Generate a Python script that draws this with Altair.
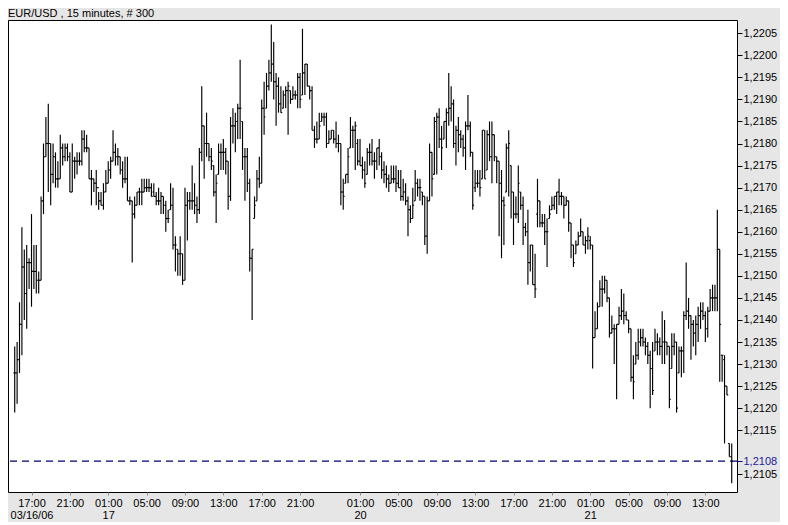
import altair as alt
import pandas as pd

title_text = "EUR/USD , 15 minutes, # 300"
base_price = 1.2100
pip = 0.0001
last_price = 1.2108

# OHLC values in pips above 1.2100, one entry per 15-minute bar (300 bars)
high_pips = [
    34, 35, 44, 61, 56, 57, 54, 64, 57, 57,
    51, 68, 80, 86, 89, 80, 80, 78, 76, 82,
    80, 80, 80, 78, 80, 77, 78, 78, 83, 83,
    82, 79, 74, 72, 74, 69, 69, 71, 74, 76,
    77, 83, 80, 79, 77, 76, 77, 77, 68, 67,
    68, 69, 70, 72, 72, 72, 72, 71, 71, 69,
    70, 69, 68, 67, 65, 71, 70, 59, 56, 59,
    55, 70, 69, 69, 75, 71, 68, 79, 93, 84,
    87, 80, 79, 75, 73, 80, 80, 81, 79, 76,
    86, 88, 87, 89, 99, 85, 79, 79, 72, 56,
    68, 74, 77, 90, 94, 96, 99, 107, 103, 96,
    95, 93, 92, 93, 94, 92, 93, 92, 96, 96,
    106, 98, 98, 93, 93, 84, 85, 87, 87, 87,
    87, 83, 83, 83, 85, 82, 80, 72, 73, 79,
    86, 84, 85, 81, 81, 77, 76, 79, 80, 81,
    78, 79, 81, 78, 76, 75, 73, 75, 75, 75,
    74, 74, 72, 71, 68, 66, 70, 74, 72, 72,
    69, 68, 68, 80, 78, 86, 87, 88, 84, 85,
    88, 96, 93, 90, 84, 86, 83, 82, 85, 91,
    85, 78, 74, 74, 74, 83, 83, 83, 85, 85,
    82, 77, 76, 74, 68, 80, 83, 75, 69, 68,
    75, 69, 68, 62, 65, 57, 57, 55, 72, 67,
    64, 64, 63, 66, 68, 68, 69, 72, 69, 68,
    68, 67, 62, 57, 58, 60, 63, 60, 59, 61,
    59, 57, 42, 44, 49, 50, 50, 49, 45, 41,
    39, 39, 43, 47, 46, 42, 40, 38, 32, 35,
    38, 38, 38, 36, 35, 33, 35, 38, 37, 36,
    42, 40, 35, 34, 37, 37, 35, 34, 34, 42,
    53, 45, 41, 40, 41, 43, 44, 44, 42, 43,
    47, 48, 48, 65, 56, 32, 32, 25, 12, 12,
]
low_pips = [
    19, 21, 28, 32, 40, 38, 47, 43, 47, 46,
    46, 49, 64, 77, 69, 66, 71, 70, 70, 72,
    75, 76, 76, 69, 69, 72, 73, 75, 75, 78,
    78, 72, 66, 69, 66, 65, 66, 65, 69, 71,
    72, 76, 75, 75, 73, 70, 71, 67, 66, 53,
    63, 66, 66, 66, 69, 69, 69, 68, 68, 66,
    66, 64, 64, 60, 62, 65, 56, 51, 50, 50,
    48, 49, 58, 65, 65, 64, 62, 64, 76, 72,
    77, 76, 74, 68, 62, 73, 74, 74, 73, 65,
    67, 80, 78, 81, 81, 74, 67, 69, 51, 40,
    63, 67, 70, 71, 82, 88, 92, 94, 90, 84,
    87, 87, 88, 88, 82, 89, 90, 90, 88, 88,
    91, 91, 93, 90, 83, 79, 80, 81, 85, 84,
    79, 80, 81, 80, 79, 78, 66, 65, 71, 71,
    79, 79, 74, 75, 75, 72, 70, 73, 75, 75,
    72, 74, 75, 72, 71, 70, 69, 71, 71, 69,
    70, 67, 67, 66, 59, 62, 63, 67, 68, 67,
    66, 57, 55, 67, 68, 73, 73, 79, 74, 81,
    79, 84, 85, 79, 75, 78, 79, 77, 74, 83,
    77, 65, 69, 70, 68, 72, 72, 74, 76, 71,
    76, 71, 59, 54, 57, 69, 68, 63, 57, 63,
    62, 65, 57, 59, 48, 51, 48, 45, 61, 61,
    61, 57, 52, 63, 65, 65, 64, 66, 66, 63,
    66, 60, 54, 52, 55, 57, 59, 57, 55, 56,
    56, 29, 36, 38, 43, 43, 46, 44, 36, 37,
    30, 22, 39, 40, 39, 40, 37, 26, 22, 30,
    31, 34, 34, 32, 30, 20, 23, 33, 32, 32,
    30, 30, 32, 20, 29, 32, 19, 28, 27, 28,
    40, 38, 31, 34, 32, 35, 38, 40, 35, 36,
    42, 42, 42, 42, 26, 26, 12, 23, 9, 3,
]
open_pips = [
    28, 28, 31, 39, 52, 46, 53, 53, 51, 51,
    49, 49, 67, 77, 80, 80, 73, 77, 72, 72,
    79, 77, 79, 77, 69, 76, 76, 76, 76, 81,
    79, 79, 72, 72, 71, 70, 67, 66, 69, 71,
    74, 76, 78, 77, 77, 74, 72, 72, 67, 67,
    64, 66, 69, 69, 69, 70, 70, 70, 69, 68,
    67, 67, 68, 66, 63, 65, 66, 57, 56, 55,
    55, 49, 66, 67, 67, 67, 66, 65, 78, 84,
    80, 80, 77, 75, 69, 73, 78, 78, 78, 76,
    68, 84, 84, 85, 88, 85, 77, 77, 71, 54,
    63, 67, 72, 71, 88, 88, 93, 96, 98, 94,
    93, 89, 88, 91, 92, 92, 90, 91, 91, 95,
    91, 96, 98, 93, 92, 83, 81, 81, 85, 86,
    86, 80, 81, 83, 81, 80, 80, 69, 71, 73,
    79, 83, 83, 80, 76, 75, 74, 73, 78, 78,
    76, 76, 79, 77, 74, 73, 72, 71, 72, 72,
    71, 70, 68, 69, 67, 65, 63, 67, 71, 70,
    69, 68, 59, 67, 78, 73, 85, 86, 81, 81,
    85, 87, 88, 89, 80, 83, 82, 81, 79, 84,
    84, 78, 70, 71, 71, 72, 83, 74, 82, 77,
    82, 77, 76, 71, 67, 69, 79, 75, 69, 64,
    64, 69, 66, 61, 60, 53, 57, 48, 64, 67,
    62, 62, 60, 63, 65, 66, 68, 69, 68, 68,
    66, 67, 62, 57, 55, 57, 59, 60, 57, 58,
    58, 57, 36, 38, 43, 47, 47, 49, 45, 37,
    38, 38, 39, 41, 42, 41, 40, 38, 27, 30,
    32, 35, 36, 35, 34, 32, 29, 33, 35, 35,
    34, 35, 35, 34, 29, 34, 35, 28, 33, 33,
    41, 42, 41, 39, 37, 39, 41, 42, 41, 38,
    42, 45, 45, 45, 56, 32, 31, 25, 12, 9,
]
close_pips = [
    28, 31, 39, 52, 46, 53, 53, 51, 51, 49,
    49, 67, 77, 80, 80, 73, 77, 72, 72, 79,
    77, 79, 77, 69, 76, 76, 76, 76, 81, 79,
    79, 72, 72, 71, 70, 67, 66, 69, 71, 74,
    76, 78, 77, 77, 74, 72, 72, 67, 67, 64,
    66, 69, 69, 69, 70, 70, 70, 68, 68, 67,
    67, 68, 66, 63, 63, 66, 57, 57, 55, 55,
    49, 66, 67, 67, 67, 66, 65, 78, 84, 80,
    80, 77, 76, 69, 71, 78, 78, 78, 76, 68,
    84, 84, 85, 88, 88, 77, 77, 71, 54, 56,
    66, 72, 71, 88, 86, 93, 96, 98, 94, 93,
    89, 87, 91, 92, 93, 90, 91, 91, 95, 90,
    96, 98, 93, 92, 83, 81, 81, 84, 86, 86,
    80, 81, 83, 81, 80, 80, 69, 68, 73, 77,
    83, 83, 84, 76, 75, 74, 71, 78, 78, 76,
    76, 79, 77, 74, 73, 72, 71, 72, 72, 71,
    70, 68, 69, 67, 65, 63, 66, 71, 70, 70,
    68, 59, 67, 78, 72, 85, 86, 81, 79, 85,
    87, 88, 89, 80, 83, 82, 81, 79, 84, 84,
    78, 66, 71, 71, 70, 83, 72, 82, 77, 82,
    77, 76, 71, 67, 66, 79, 80, 69, 64, 64,
    71, 66, 61, 60, 53, 57, 48, 47, 67, 62,
    62, 60, 60, 64, 66, 68, 69, 68, 68, 66,
    67, 62, 57, 53, 57, 59, 60, 57, 58, 59,
    57, 36, 38, 43, 47, 47, 49, 45, 37, 38,
    38, 39, 41, 42, 41, 40, 38, 27, 26, 32,
    35, 36, 35, 34, 32, 29, 24, 35, 35, 34,
    35, 35, 34, 22, 34, 35, 20, 33, 33, 41,
    42, 41, 39, 37, 39, 41, 42, 41, 38, 42,
    45, 45, 45, 56, 39, 32, 25, 23, 9, 8,
]

# time axis: bar index of each labelled tick, its time and (optional) date line
x_tick_index = [7, 23, 39, 55, 71, 87, 103, 119, 144, 160, 176, 192, 208, 224, 240, 256, 272, 288]
x_tick_time = ["17:00", "21:00", "01:00", "05:00", "09:00", "13:00", "17:00", "21:00",
               "01:00", "05:00", "09:00", "13:00", "17:00", "21:00",
               "01:00", "05:00", "09:00", "13:00"]
x_tick_date = ["03/16/06", "", "17", "", "", "", "", "",
               "20", "", "", "", "", "",
               "21", "", "", ""]

# price axis ticks (the last price 1.2108 replaces 1.2110)
y_tick_values = [1.2105, 1.2108, 1.2115, 1.2120, 1.2125, 1.2130, 1.2135, 1.2140,
                 1.2145, 1.2150, 1.2155, 1.2160, 1.2165, 1.2170, 1.2175, 1.2180,
                 1.2185, 1.2190, 1.2195, 1.2200, 1.2205]

n = len(high_pips)
df = pd.DataFrame({
    "i": list(range(n)),
    "high": [base_price + v * pip for v in high_pips],
    "low": [base_price + v * pip for v in low_pips],
    "open": [base_price + v * pip for v in open_pips],
    "close": [base_price + v * pip for v in close_pips],
})

label_expr = " : ".join(
    f"datum.value == {i} ? ['{t}', '{d}']"
    for i, t, d in zip(x_tick_index, x_tick_time, x_tick_date)
) + " : ''"

FONT = "Liberation Sans"
BAR_COLOR = "#000000"
BAR_WIDTH = 1.15

x_scale = alt.Scale(domain=[-2.8, 301.2], nice=False, zero=False)
y_scale = alt.Scale(domain=[1.21010, 1.22080], nice=False, zero=False)

x_axis = alt.Axis(
    orient="bottom", values=x_tick_index, labelExpr=label_expr, title=None,
    grid=False, domain=False, ticks=True, tickSize=3, tickColor="#7a9a7a",
    labelFont=FONT, labelFontSize=11, labelColor="black", labelPadding=2,
    labelLineHeight=12, labelOverlap=False, labelFlush=False, labelAngle=0,
)
y_axis = alt.Axis(
    orient="right", values=y_tick_values,
    labelExpr="replace(format(datum.value, '.4f'), '.', ',')", title=None,
    grid=False, domain=False, tickSize=5,
    tickColor={"condition": {"test": "abs(datum.value - 1.2108) < 0.00001", "value": "#000080"},
               "value": "black"},
    labelColor={"condition": {"test": "abs(datum.value - 1.2108) < 0.00001", "value": "#1a1a9a"},
                "value": "black"},
    labelFont=FONT, labelFontSize=11, labelPadding=1, labelOverlap=False, labelFlush=False,
)

last_line = alt.Chart(pd.DataFrame({"p": [last_price]})).mark_rule(
    color="#000070", strokeDash=[7, 5], strokeWidth=1.3
).encode(y=alt.Y("p:Q", scale=y_scale, axis=y_axis))

ranges = alt.Chart(df).mark_rule(color=BAR_COLOR, strokeWidth=BAR_WIDTH).encode(
    x=alt.X("i:Q", scale=x_scale, axis=x_axis),
    y=alt.Y("low:Q", scale=y_scale, axis=y_axis),
    y2="high:Q",
)

opens = alt.Chart(df).transform_calculate(xo="datum.i - 0.55").mark_rule(
    color=BAR_COLOR, strokeWidth=BAR_WIDTH
).encode(
    x=alt.X("xo:Q", scale=x_scale, axis=x_axis),
    x2="i:Q",
    y=alt.Y("open:Q", scale=y_scale, axis=y_axis),
)

closes = alt.Chart(df).transform_calculate(xc="datum.i + 0.55").mark_rule(
    color=BAR_COLOR, strokeWidth=BAR_WIDTH
).encode(
    x=alt.X("i:Q", scale=x_scale, axis=x_axis),
    x2="xc:Q",
    y=alt.Y("close:Q", scale=y_scale, axis=y_axis),
)

title = alt.Chart(pd.DataFrame({"t": [title_text]})).mark_text(
    align="left", baseline="bottom", font=FONT, fontSize=11, color="black"
).encode(x=alt.value(0), y=alt.value(-1), text="t:N")

chart = alt.layer(last_line, ranges, opens, closes, title).properties(
    width=729,
    height=472,
    autosize=alt.AutoSizeParams(type="none"),
    padding={"left": 0, "top": 12, "right": 43, "bottom": 30},
    background="#e6e6e6",
).configure_view(fill="white", stroke="black", strokeWidth=1)

chart.save("out.html", embed_options={"renderer": "svg", "actions": False})
